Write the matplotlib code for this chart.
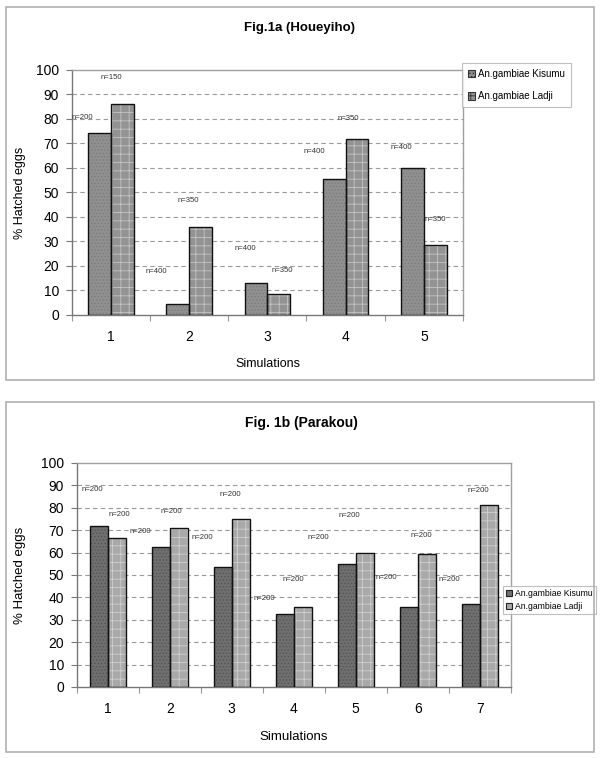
import numpy as np
import matplotlib
matplotlib.use("Agg")
import matplotlib.pyplot as plt
from matplotlib.patches import Patch, Rectangle

plt.rcParams['font.family'] = ['Liberation Sans', 'DejaVu Sans']
plt.rcParams['hatch.linewidth'] = 0.6

# ---- data: Fig.1a (Houeyiho)
sims_a = [1, 2, 3, 4, 5]
kisumu_a = [74.3, 4.6, 13.1, 55.7, 59.9]
ladji_a = [86.0, 35.8, 8.5, 71.7, 28.4]
n_kisumu_a = [200, 400, 400, 400, 400]
n_ladji_a = [150, 350, 350, 350, 350]

# ---- data: Fig.1b (Parakou)
sims_b = [1, 2, 3, 4, 5, 6, 7]
kisumu_b = [71.8, 62.6, 53.6, 32.8, 54.8, 35.8, 37.2]
ladji_b = [66.3, 71.2, 75.0, 35.8, 59.9, 59.3, 81.2]
n_kisumu_b = [200, 200, 200, 200, 200, 200, 200]
n_ladji_b = [200, 200, 200, 200, 200, 200, 200]

series = ["An.gambiae Kisumu", "An.gambiae Ladji"]

# label placement (x offset from category, y in axis units), as placed by hand in the original
lab_a_k = [(-0.37, 80.8), (-0.42, 17.6), (-0.28, 27.0), (-0.40, 66.6), (-0.29, 68.3)]
lab_a_l = [(0.00, 96.9), (-0.01, 46.9), (0.19, 18.3), (0.04, 80.0), (0.15, 39.0)]
lab_b_k = [(-0.24, 88.1), (-0.48, 69.3), (-0.47, 66.6), (-0.47, 39.6),
           (-0.61, 66.6), (-0.50, 49.0), (-0.49, 48.1)]
lab_b_l = [(0.19, 76.9), (0.03, 78.2), (-0.03, 86.1), (-0.01, 48.1),
           (-0.11, 76.5), (0.06, 67.5), (-0.02, 87.9)]

W, H = 600, 758
fig = plt.figure(figsize=(W / 100, H / 100), dpi=100)


def px_axes(x0, y0, x1, y1):
    return fig.add_axes([x0 / W, 1 - y1 / H, (x1 - x0) / W, (y1 - y0) / H])


def frame(x0, y0, x1, y1):
    fig.patches.append(Rectangle((x0 / W, 1 - y1 / H), (x1 - x0) / W, (y1 - y0) / H,
                                 transform=fig.transFigure, fill=False,
                                 edgecolor='#b0b0b0', linewidth=1.2))


def draw_panel(ax, sims, kis, lad, colors, hatches):
    x = np.array(sims, dtype=float)
    bw = 0.29
    for vals, off, fc, hc, ht in [(kis, -bw / 2, colors[0], colors[1], hatches[0]),
                                  (lad, bw / 2, colors[2], colors[3], hatches[1])]:
        ax.bar(x + off, vals, bw, color=fc, edgecolor=hc, hatch=ht, linewidth=0, zorder=2)
        ax.bar(x + off, vals, bw, fill=False, edgecolor='#111111', linewidth=1.0, zorder=3)
    ax.set_xlim(0.5, len(sims) + 0.5)
    ax.set_ylim(0, 100)
    ax.set_yticks(np.arange(0, 101, 10))
    for g in range(10, 100, 10):
        ax.axhline(g, color='#9a9a9a', lw=0.8, dashes=(4, 3), zorder=1)
    ax.set_xticks(np.arange(0.5, len(sims) + 1, 1.0))
    ax.set_xticklabels([])
    ax.set_xticks(x, minor=True)
    ax.set_xticklabels([str(s) for s in sims], minor=True, fontsize=10)
    ax.tick_params(axis='x', which='major', direction='out', length=4, color='#999999')
    ax.tick_params(axis='x', which='minor', length=0, pad=11)
    ax.tick_params(axis='y', direction='out', length=4, color='#777777', labelsize=10, pad=5)
    for s in ['top', 'right']:
        ax.spines[s].set_color('#a0a0a0')
    for s in ['left', 'bottom']:
        ax.spines[s].set_color('#777777')
    for s in ax.spines.values():
        s.set_linewidth(1.0)


def n_labels(ax, sims, ns, pos):
    for s, n, (dx, yv) in zip(sims, ns, pos):
        ax.text(s + dx, yv, f"n={n}", fontsize=5.6, color='#333333', ha='center', va='center')


# ---------- top panel
frame(6, 7, 594, 380)
fig.text(300 / W, 1 - 28 / H, "Fig.1a (Houeyiho)", fontsize=9.5, fontweight='bold',
         ha='center', va='center')
ax1 = px_axes(71.7, 70, 463, 315)
cols_a = ['#909090', '#7c7c7c', '#939393', '#c4c4c4']
draw_panel(ax1, sims_a, kisumu_a, ladji_a, cols_a, ['.....', '++'])
n_labels(ax1, sims_a, n_kisumu_a, lab_a_k)
n_labels(ax1, sims_a, n_ladji_a, lab_a_l)
ax1.set_ylabel("% Hatched eggs", fontsize=9)
ax1.yaxis.set_label_coords(-0.117, 0.5)
ax1.set_xlabel("Simulations", fontsize=9)
ax1.xaxis.set_label_coords(0.502, -0.176)
hs = [Patch(facecolor=cols_a[0], edgecolor='#333333', hatch='.....', lw=0.8),
      Patch(facecolor=cols_a[2], edgecolor='#333333', hatch='++', lw=0.8)]
leg = ax1.legend(hs, series, loc='upper left', bbox_to_anchor=(0.997, 1.029),
                 fontsize=7, frameon=True, fancybox=False, handlelength=0.8,
                 handleheight=0.8, handletextpad=0.3, labelspacing=1.3,
                 borderpad=0.6, borderaxespad=0)
leg.get_frame().set_edgecolor('#b0b0b0')
leg.get_frame().set_linewidth(0.8)

# ---------- bottom panel
frame(6, 402, 594, 752)
fig.text(301 / W, 1 - 423 / H, "Fig. 1b (Parakou)", fontsize=10, fontweight='bold',
         ha='center', va='center')
ax2 = px_axes(76.7, 463, 510.7, 687)
cols_b = ['#6f6f6f', '#555555', '#a9a9a9', '#d0d0d0']
draw_panel(ax2, sims_b, kisumu_b, ladji_b, cols_b, ['.....', '++'])
n_labels(ax2, sims_b, n_kisumu_b, lab_b_k)
n_labels(ax2, sims_b, n_ladji_b, lab_b_l)
ax2.set_ylabel("% Hatched eggs", fontsize=9.5)
ax2.yaxis.set_label_coords(-0.117, 0.5)
ax2.set_xlabel("Simulations", fontsize=9.5)
ax2.xaxis.set_label_coords(0.4995, -0.196)
hs = [Patch(facecolor=cols_b[0], edgecolor='#222222', lw=0.8),
      Patch(facecolor=cols_b[2], edgecolor='#222222', lw=0.8)]
leg = ax2.legend(hs, series, loc='upper left', bbox_to_anchor=(0.982, 0.451),
                 fontsize=6.2, frameon=True, fancybox=False, handlelength=0.7,
                 handleheight=0.7, handletextpad=0.3, labelspacing=0.4,
                 borderpad=0.4, borderaxespad=0)
leg.get_frame().set_edgecolor('#b0b0b0')
leg.get_frame().set_linewidth(0.8)

fig.savefig("out.png", dpi=100)
